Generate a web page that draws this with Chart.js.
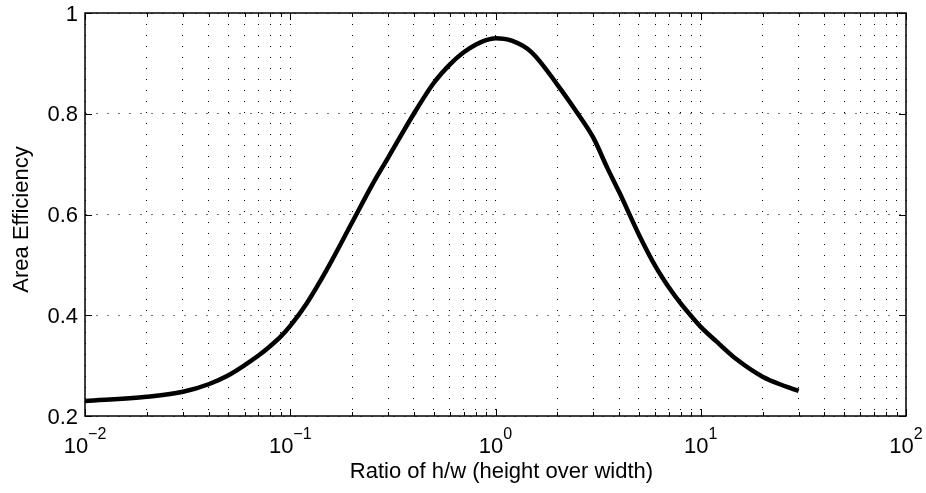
<!DOCTYPE html>
<html>
<head>
<meta charset="utf-8">
<title>Area Efficiency</title>
<script src="https://cdn.jsdelivr.net/npm/chart.js@4.4.1/dist/chart.umd.min.js"></script>
<style>
  body { margin: 0; background: #fff; }
  canvas { display: block; }
</style>
</head>
<body>
<canvas id="effChart" width="926" height="493"></canvas>
<script>
// ratio h/w and the area efficiency at that ratio
const ratios = [0.01, 0.02, 0.03, 0.04, 0.05, 0.06, 0.07, 0.08, 0.09,
    0.1, 0.12, 0.15, 0.2, 0.25, 0.3, 0.4, 0.5, 0.6, 0.7, 0.8, 0.9,
    1, 1.2, 1.5, 2, 2.5, 3, 3.5, 4, 5, 6, 7, 8, 9,
    10, 12, 15, 20, 25, 30];
const efficiency = [0.230, 0.238, 0.248, 0.263, 0.281, 0.301, 0.320, 0.339, 0.358,
    0.379, 0.423, 0.489, 0.584, 0.658, 0.713, 0.800, 0.861, 0.898, 0.922, 0.937, 0.946,
    0.950, 0.945, 0.922, 0.858, 0.802, 0.752, 0.693, 0.645, 0.560, 0.498, 0.455, 0.423, 0.398,
    0.377, 0.347, 0.312, 0.278, 0.261, 0.250];

// axis ticks
const xTickExponents = [-2, -1, 0, 1, 2];
const yTickLabels = ['0.2', '0.4', '0.6', '0.8', '1'];

const xTitle = 'Ratio of h/w (height over width)';
const yTitle = 'Area Efficiency';

const FONT = '"Liberation Sans", Arial, Helvetica, sans-serif';

let points = [];
for (let i = 0; i < ratios.length; i++) {
    points.push({ x: ratios[i], y: efficiency[i] });
}

// box, inward tick marks, 10^n labels and axis titles
const axesPlugin = {
    id: 'matlabAxes',
    afterDraw(chart) {
        const ctx = chart.ctx;
        const area = chart.chartArea;
        const xs = chart.scales.x;
        const ys = chart.scales.y;

        ctx.save();
        ctx.strokeStyle = '#000';
        ctx.lineWidth = 1;
        ctx.beginPath();
        xs.ticks.forEach(t => {
            const px = Math.round(xs.getPixelForValue(t.value)) + 0.5;
            const len = t.major ? 7 : 4;
            ctx.moveTo(px, area.bottom);
            ctx.lineTo(px, area.bottom - len);
            ctx.moveTo(px, area.top);
            ctx.lineTo(px, area.top + len);
        });
        ys.ticks.forEach(t => {
            const py = Math.round(ys.getPixelForValue(t.value)) + 0.5;
            ctx.moveTo(area.left, py);
            ctx.lineTo(area.left + 7, py);
            ctx.moveTo(area.right, py);
            ctx.lineTo(area.right - 7, py);
        });
        ctx.stroke();

        ctx.lineWidth = 1.5;
        ctx.strokeRect(area.left, area.top, area.right - area.left, area.bottom - area.top);

        // x tick labels as 10 with a raised exponent
        ctx.fillStyle = '#000';
        ctx.textAlign = 'left';
        ctx.textBaseline = 'alphabetic';
        xTickExponents.forEach(e => {
            const px = xs.getPixelForValue(Math.pow(10, e));
            const sup = e < 0 ? '\u2212' + (-e) : String(e);
            ctx.font = '22px ' + FONT;
            const baseW = ctx.measureText('10').width;
            ctx.font = '16px ' + FONT;
            const supW = ctx.measureText(sup).width;
            const start = px - (baseW + supW) / 2;
            ctx.font = '22px ' + FONT;
            ctx.fillText('10', start, 453);
            ctx.font = '16px ' + FONT;
            ctx.fillText(sup, start + baseW, 439);
        });

        // axis titles
        ctx.font = '22px ' + FONT;
        ctx.textAlign = 'center';
        ctx.fillText(xTitle, (area.left + area.right) / 2 + 6, 478);

        ctx.translate(28.3, (area.top + area.bottom) / 2 + 5);
        ctx.rotate(-Math.PI / 2);
        ctx.fillText(yTitle, 0, 0);
        ctx.restore();
    }
};

const chart = new Chart(document.getElementById('effChart'), {
    type: 'line',
    data: {
        datasets: [{
            data: points,
            borderColor: '#000',
            borderWidth: 4.5,
            pointRadius: 0,
            fill: false,
            cubicInterpolationMode: 'monotone'
        }]
    },
    options: {
        responsive: false,
        animation: false,
        devicePixelRatio: 1,
        layout: { padding: { top: 13, right: 20, left: 0, bottom: 0 } },
        plugins: {
            legend: { display: false },
            tooltip: { enabled: false }
        },
        scales: {
            x: {
                type: 'logarithmic',
                min: 0.01,
                max: 100,
                afterBuildTicks: (scale) => {
                    let ticks = [];
                    for (let e = xTickExponents[0]; e < xTickExponents[xTickExponents.length - 1]; e++) {
                        for (let m = 1; m < 10; m++) {
                            ticks.push({ value: m * Math.pow(10, e), major: m === 1 });
                        }
                    }
                    ticks.push({ value: 100, major: true });
                    scale.ticks = ticks;
                },
                afterFit: (scale) => {
                    scale.height = 77;
                    scale.paddingLeft = 0;
                    scale.paddingRight = 0;
                },
                ticks: { display: false },
                grid: {
                    color: '#000',
                    lineWidth: 1,
                    drawTicks: false
                },
                border: { display: false, dash: [1, 10] }
            },
            y: {
                type: 'linear',
                min: 0.2,
                max: 1,
                afterFit: (scale) => {
                    scale.width = 85;
                    scale.paddingTop = 0;
                    scale.paddingBottom = 0;
                },
                ticks: {
                    stepSize: 0.2,
                    padding: 7,
                    labelOffset: 1.5,
                    color: '#000',
                    font: { family: FONT, size: 22 },
                    callback: (value, index) => yTickLabels[index]
                },
                grid: {
                    color: '#777',
                    lineWidth: 1,
                    drawTicks: false
                },
                border: { display: false, dash: [2, 9] }
            }
        }
    },
    plugins: [axesPlugin]
});
</script>
</body>
</html>
